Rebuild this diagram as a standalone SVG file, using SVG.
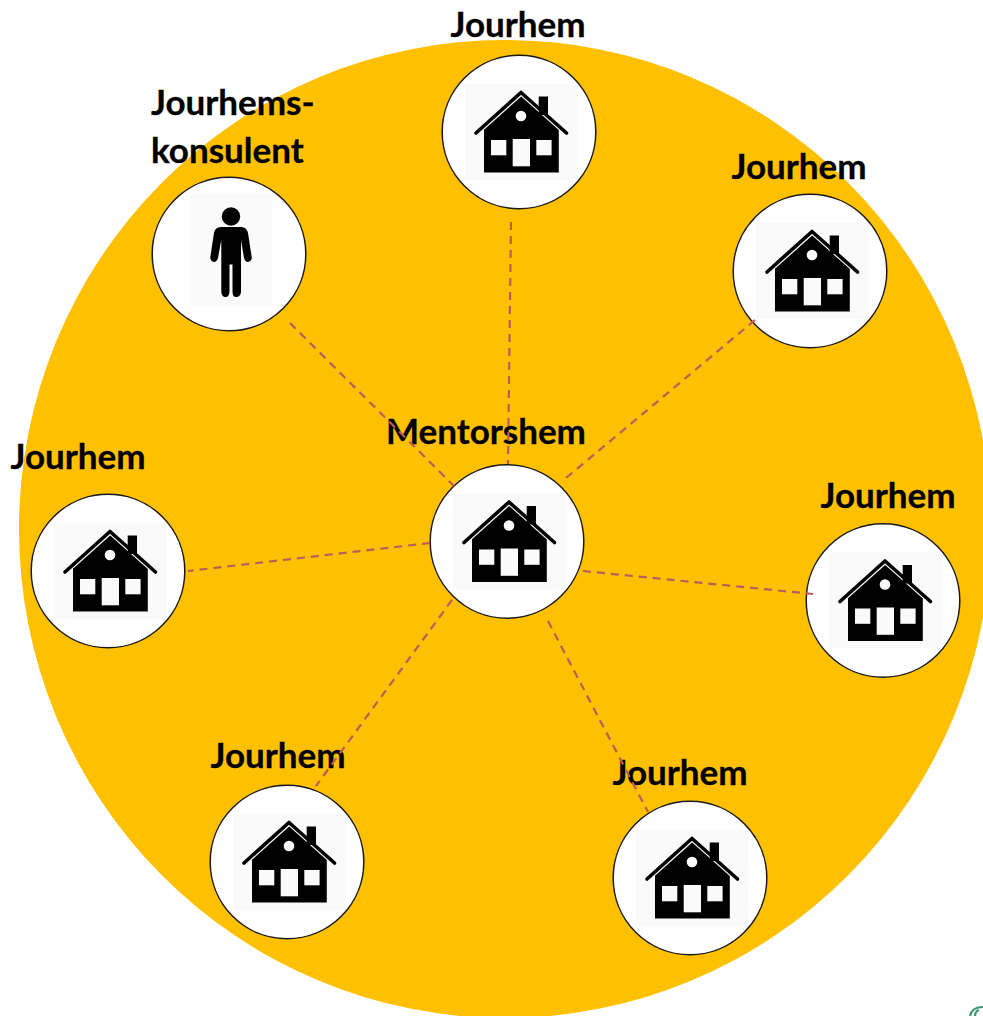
<svg xmlns="http://www.w3.org/2000/svg" width="983" height="1016" viewBox="0 0 983 1016">
<style>
.bg{fill:#FFC000}
.disc{fill:#fff;stroke:#1a1a1a;stroke-width:1.5}
.pad{fill:#fafafa}
.ink{fill:#000}
.cut{fill:#fafafa}
.roof{fill:none;stroke:#000;stroke-width:3.6;stroke-linecap:round;stroke-linejoin:round}
.link{stroke:#BE5B5B;stroke-width:2.2;stroke-dasharray:8 6;fill:none}
.logo{fill:none;stroke:#3F9A78;stroke-width:2.2}
text{font-family:"Lato","Liberation Sans",sans-serif;font-weight:700;font-size:35px;fill:#000;stroke:#000;stroke-width:.3}
</style>
<defs>
<g id="house">
<circle class="disc" r="76.8"/>
<rect class="pad" x="-54" y="-48" width="113" height="96"/>
<polyline class="roof" points="-43,1 2,-39.500 47.500,1"/>
<path class="ink" d="M19.700,-35.500H29V-17H19.700Z"/>
<polygon class="ink" points="-35,-2.200 2.200,-35.500 39.800,-1.900 39.800,40.500 -35,40.500"/>
<circle class="cut" cx="2" cy="-16" r="5.300"/>
<rect class="cut" x="-28" y="8" width="15.300" height="15.300"/>
<rect class="cut" x="-6.300" y="7" width="17.300" height="27.300"/>
<rect class="cut" x="17.300" y="8" width="15.300" height="15.300"/>
</g>
</defs>
<ellipse class="bg" cx="505" cy="529" rx="486" ry="489"/>
<path class="logo" d="M983,1007C975,1007 971,1011 970,1016M979,1010C976,1011 975,1013 975,1016"/>
<g id="node-top"><use href="#house" x="519" y="132"/><text x="518" y="36.500" text-anchor="middle">Jourhem</text></g>
<g id="node-upper-right"><use href="#house" x="810" y="271"/><text x="799" y="178.500" text-anchor="middle">Jourhem</text></g>
<g id="node-right"><use href="#house" x="883" y="600.500"/><text x="888" y="507.500" text-anchor="middle">Jourhem</text></g>
<g id="node-lower-right"><use href="#house" x="690" y="878"/><text x="680" y="784.500" text-anchor="middle">Jourhem</text></g>
<g id="node-lower-left"><use href="#house" x="287" y="862"/><text x="278" y="767.500" text-anchor="middle">Jourhem</text></g>
<g id="node-left"><use href="#house" x="108" y="571"/><text x="78" y="468.500" text-anchor="middle">Jourhem</text></g>
<g id="node-center"><use href="#house" x="507" y="541.500"/><text x="486" y="443.500" text-anchor="middle">Mentorshem</text></g>
<g id="node-consultant">
<circle class="disc" cx="229" cy="254" r="76.800"/>
<rect class="pad" x="190" y="194" width="82" height="112"/>
<circle class="ink" cx="231" cy="216.500" r="9.200"/>
<path class="ink" d="M222,227H240C245,227 247,229 248,233L251.700,257C252.200,260 250,262 248,262C246,262 244.500,260 244,258L241,240V291C241,295 239,297 236,297C233.500,297 232.500,295 232.500,291V264.500H229.500V291C229.500,295 228,297 225.800,297C223,297 221.300,295 221.300,291V240L218,258C217.500,260 216,262 214,262C212,262 210,260 210.300,257L214,233C215,229 217,227 222,227Z"/>
<text x="151" y="114.500">Jourhems-</text>
<text x="151" y="162.500">konsulent</text>
</g>
<g id="connectors">
<line class="link" x1="511" y1="222" x2="508" y2="464"/>
<line class="link" x1="755" y1="320" x2="566" y2="478"/>
<line class="link" x1="583" y1="571" x2="813" y2="594"/>
<line class="link" x1="548" y1="621" x2="648" y2="812"/>
<line class="link" x1="452" y1="600" x2="316" y2="786"/>
<line class="link" x1="430" y1="543" x2="188" y2="571"/>
<line class="link" x1="290" y1="323" x2="454" y2="486"/>
</g>
</svg>
